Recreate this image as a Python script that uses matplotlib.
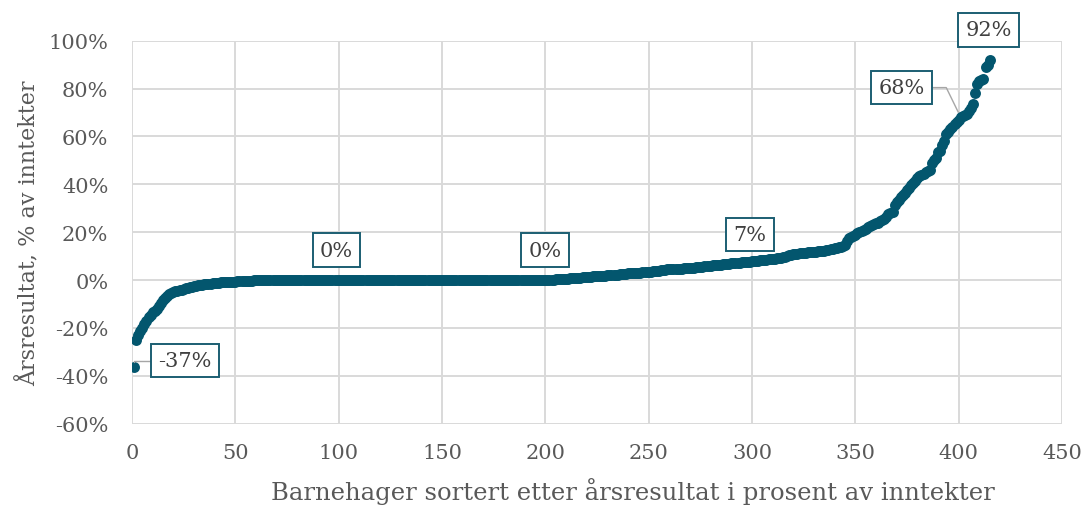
import matplotlib
matplotlib.use("Agg")
import matplotlib.pyplot as plt

# årsresultat i prosent av inntekter, sortert (ett punkt per barnehage)
venstre_hale = [
    -36.5, -25.0, -23.0, -21.5, -20.0, -18.5, -17.0, -15.5, -14.5, -13.5,
    -13.0, -12.0, -11.0, -9.5, -8.5, -7.5, -6.5, -6.0, -5.5, -5.0,
    -4.8, -4.5, -4.3, -4.0, -3.7, -3.5, -3.3, -3.0, -2.8, -2.6,
    -2.4, -2.2, -2.0, -1.9, -1.8, -1.7, -1.6, -1.5, -1.4, -1.3,
    -1.2, -1.1, -1.0, -1.0, -0.9, -0.9, -0.8, -0.8, -0.7, -0.7,
    -0.6, -0.6, -0.5, -0.5, -0.4, -0.4, -0.3, -0.3, -0.2, -0.2,
    -0.1, -0.1,
]
null_resultat = [0.0] * 138
svak_stigning = [
    0.1, 0.1, 0.2, 0.2, 0.3, 0.3, 0.4, 0.4, 0.5, 0.5,
    0.6, 0.7, 0.7, 0.8, 0.9, 0.9, 1.0, 1.1, 1.1, 1.2,
    1.3, 1.4, 1.5, 1.6, 1.6, 1.7, 1.7, 1.8, 1.8, 1.9,
    1.9, 2.0, 2.1, 2.2, 2.3, 2.4, 2.5, 2.6, 2.7, 2.8,
    2.8, 2.9, 3.0, 3.0, 3.1, 3.1, 3.2, 3.3, 3.3, 3.4,
    3.5, 3.6, 3.7, 3.8, 3.9, 4.0, 4.1, 4.2, 4.4, 4.5,
    4.6, 4.6, 4.7, 4.7, 4.8, 4.8, 4.9, 4.9, 5.0, 5.0,
    5.1, 5.2, 5.3, 5.4, 5.5, 5.6, 5.7, 5.8, 5.9, 6.0,
    6.1, 6.2, 6.3, 6.3, 6.4, 6.5, 6.6, 6.7, 6.8, 6.9,
    7.0, 7.1, 7.2, 7.3, 7.4, 7.4, 7.5, 7.6, 7.7, 7.8,
    7.9, 8.0, 8.1, 8.2, 8.3, 8.4, 8.5, 8.6, 8.7, 8.8,
    8.9, 9.0, 9.2, 9.4, 9.6, 9.8, 10.0, 10.3, 10.6, 10.8,
    10.9, 11.0, 11.1, 11.2, 11.3, 11.4, 11.5, 11.6, 11.7, 11.8,
    11.9, 12.0, 12.1, 12.2, 12.3, 12.4, 12.6, 12.8, 13.0, 13.2,
    13.4, 13.6, 13.9, 14.2, 14.6,
]
hoyre_hale = [
    16.5, 17.5, 18.0, 18.5, 19.0, 19.5, 20.0, 20.5, 21.0, 21.5,
    22.0, 22.5, 23.0, 23.3, 23.7, 24.0, 24.5, 25.0, 25.5, 26.5,
    27.5, 28.0, 28.5, 31.5, 32.5, 33.5, 34.5, 35.5, 36.5, 37.5,
    38.5, 39.5, 40.5, 41.5, 42.5, 43.5, 44.0, 44.5, 45.0, 45.5,
    46.0, 49.0, 50.0, 51.0, 53.5, 54.0, 56.5, 58.0, 61.0, 62.0,
    63.0, 64.0, 65.0, 66.0, 67.0, 68.0, 68.5, 69.0, 69.5, 70.5,
    72.0, 73.5, 78.0, 82.0, 83.0, 83.5, 84.0, 89.0, 90.0, 92.0,
]
resultat = venstre_hale + null_resultat + svak_stigning + hoyre_hale
barnehage = list(range(1, len(resultat) + 1))

# dataetiketter: (barnehage nr, tekst)
etiketter = [(1, "-37%"), (100, "0%"), (200, "0%"), (299, "7%"), (401, "68%"), (415, "92%")]

x_ticks = [0, 50, 100, 150, 200, 250, 300, 350, 400, 450]
y_ticks = [-60, -40, -20, 0, 20, 40, 60, 80, 100]

# farger
punkt_farge = "#03566E"
ramme_farge = "#1B5E72"
tekst_farge = "#595959"
rutenett = "#D9D9D9"

plt.rcParams['font.family'] = ['DejaVu Serif']

fig = plt.figure(figsize=(10.83, 5.06), dpi=100)
ax = fig.add_axes([132 / 1083, 1 - 424.6 / 506, 930 / 1083, 382.9 / 506])

ax.scatter(barnehage, resultat, s=62, color=punkt_farge, zorder=3, linewidths=0)

ax.set_xlim(0, 450)
ax.set_ylim(-60, 100)
ax.set_xticks(x_ticks)
ax.set_yticks(y_ticks)
ax.set_yticklabels([f"{v}%" for v in y_ticks])
ax.tick_params(length=0, labelsize=15, colors=tekst_farge)
ax.tick_params(axis='y', pad=17)
ax.tick_params(axis='x', pad=14)
ax.grid(True, color=rutenett, linewidth=1.4)
ax.set_axisbelow(True)
for s in ax.spines.values():
    s.set_visible(False)

ax.set_xlabel("Barnehager sortert etter årsresultat i prosent av inntekter",
              fontsize=17.5, color=tekst_farge, labelpad=11)
ax.xaxis.label.set_x(0.539)  # aksetittelen står litt til høyre for midten
ax.set_ylabel("Årsresultat, % av inntekter", fontsize=16, color=tekst_farge, labelpad=6)

# plassering av etikettboksene (data-koordinater)
tekst_pos = {1: (25.7, -33.7), 100: (99, 12.5), 200: (200, 12.5),
             299: (299, 19.0), 401: (372.5, 80.4), 415: (414.5, 104.5)}
koblinger = {1: "angle,angleA=0,angleB=90,rad=0", 401: "angle,angleA=0,angleB=-64,rad=0"}

boks = dict(boxstyle="square,pad=0.35", facecolor="white", edgecolor=ramme_farge, linewidth=1.4)
for nr, tekst in etiketter:
    punkt = (barnehage[nr - 1], resultat[nr - 1])
    pil = None
    if nr in koblinger:
        pil = dict(arrowstyle="-", color="#A6A6A6", linewidth=1,
                   connectionstyle=koblinger[nr], shrinkA=0, shrinkB=4)
    ax.annotate(tekst, xy=punkt, xytext=tekst_pos[nr], ha='center', va='center',
                fontsize=15, color="#404040", bbox=boks, arrowprops=pil,
                annotation_clip=False, zorder=4)

fig.savefig("out.png", dpi=100)
